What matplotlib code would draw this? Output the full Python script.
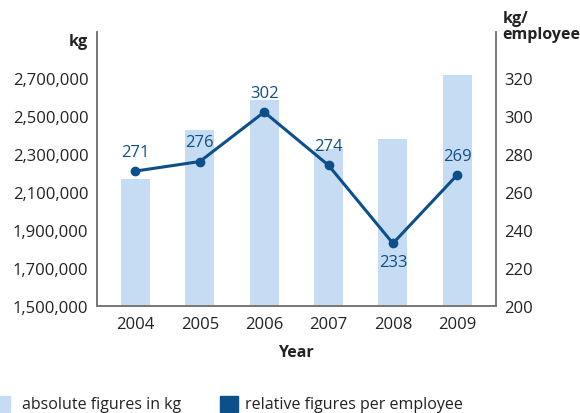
import matplotlib
matplotlib.use("Agg")
import matplotlib.pyplot as plt
from matplotlib.ticker import FuncFormatter
from matplotlib.patches import Rectangle

plt.rcParams['font.family'] = ['Open Sans', 'DejaVu Sans']

years = ['2004', '2005', '2006', '2007', '2008', '2009']
absolute_kg = [2168000, 2426000, 2584000, 2326000, 2379000, 2716000]
per_employee = [271, 276, 302, 274, 233, 269]

bar_color = '#c6dcf2'
line_color = '#0d4f8b'
text_color = '#222222'
spine_color = '#777777'

fig = plt.figure(figsize=(5.8, 4.14), dpi=100)
ax = fig.add_axes([0.167, 0.258, 0.688, 0.662])
ax2 = ax.twinx()

x = list(range(len(years)))
ax.bar(x, absolute_kg, width=0.45, color=bar_color, zorder=1)
ax.set_xlim(-0.6, 5.6)
ax.set_ylim(1500000, 2942000)
ax.set_yticks(range(1500000, 2700001, 200000))
ax.yaxis.set_major_formatter(FuncFormatter(lambda v, p: f'{int(v):,}'))
ax.set_xticks(x)
ax.set_xticklabels(years)

ax2.plot(x, per_employee, color=line_color, lw=2.2, marker='o', ms=6, zorder=3)
ax2.set_ylim(200, 344)
ax2.set_yticks(range(200, 321, 20))

# value labels: above the point, except the dip in 2008
for xi, v in zip(x, per_employee):
    if v == min(per_employee):
        ax2.annotate(str(v), (xi, v), xytext=(0, -8), textcoords='offset points',
                     ha='center', va='top', color=line_color, fontsize=12)
    else:
        ax2.annotate(str(v), (xi, v), xytext=(0, 8), textcoords='offset points',
                     ha='center', va='bottom', color=line_color, fontsize=12)

for a in (ax, ax2):
    a.spines['top'].set_visible(False)
    for s in ('left', 'right', 'bottom'):
        a.spines[s].set_color(spine_color)
        a.spines[s].set_linewidth(1.2)
    a.tick_params(length=0, labelsize=12, colors=text_color, pad=6)
ax.tick_params(axis='x', pad=7)

ax.set_xlabel('Year', fontsize=11.5, fontweight='bold', color=text_color, labelpad=9)
fig.text(0.152, 0.898, 'kg', ha='right', va='center', fontsize=11.5,
         fontweight='bold', color=text_color)
fig.text(0.866, 0.935, 'kg/\nemployee', ha='left', va='center', fontsize=11.5,
         fontweight='bold', color=text_color, linespacing=1.0)

# legend along the bottom edge
fig.patches.append(Rectangle((0.0, 0.003), 0.018, 0.038, transform=fig.transFigure,
                             color=bar_color))
fig.text(0.038, 0.022, 'absolute figures in kg', ha='left', va='center',
         fontsize=11.5, color=text_color)
fig.patches.append(Rectangle((0.38, 0.003), 0.03, 0.038, transform=fig.transFigure,
                             color=line_color))
fig.text(0.422, 0.022, 'relative figures per employee', ha='left', va='center',
         fontsize=11.5, color=text_color)

fig.savefig('out.png', dpi=100)
